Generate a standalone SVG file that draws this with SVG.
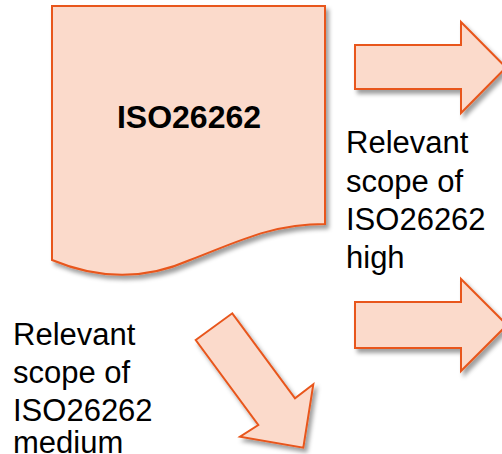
<svg xmlns="http://www.w3.org/2000/svg" width="502" height="454" viewBox="0 0 502 454">
  <defs>
    <filter id="shadow" x="-20%" y="-20%" width="140%" height="140%">
      <feDropShadow dx="3" dy="4" stdDeviation="2" flood-color="#000" flood-opacity="0.38"/>
    </filter>
    <style>
      .shape { fill: #FBDACB; stroke: #E8561C; stroke-width: 2; stroke-linejoin: miter; filter: url(#shadow); }
      .title { font-family: "Liberation Sans", Arial, sans-serif; font-weight: bold; font-size: 32px; fill: #000; text-anchor: middle; }
      .label { font-family: "Liberation Sans", Arial, sans-serif; font-size: 31px; fill: #000; }
    </style>
  </defs>
  <rect width="502" height="454" fill="#fff"/>

  <!-- document shape -->
  <g id="doc">
    <path class="shape" d="M52,6 H325 V224 C270,224 235,243 190,260 C145,280 100,280 52,260 Z"/>
    <text class="title" x="189" y="128">ISO26262</text>
  </g>

  <g id="connectors">
    <!-- upper right arrow -->
    <path class="shape" d="M355,45 H461 V22 L506,67.5 L461,113 V89 H355 Z"/>
    <!-- lower right arrow -->
    <path class="shape" d="M355,302 H461 V279 L507,325 L461,371 V348 H355 Z"/>
    <!-- diagonal arrow -->
    <path class="shape" d="M195.7,340 L232.3,313.3 L295,398.3 L313.3,384.3 L303.3,447.7 L240,436.7 L258.3,425 Z"/>
  </g>

  <g id="label-high">
    <text class="label" x="346" y="153">Relevant</text>
    <text class="label" x="346" y="191.5">scope of</text>
    <text class="label" x="346" y="230">ISO26262</text>
    <text class="label" x="346" y="268">high</text>
  </g>

  <g id="label-medium">
    <text class="label" x="13" y="344.5">Relevant</text>
    <text class="label" x="13" y="383">scope of</text>
    <text class="label" x="13" y="421">ISO26262</text>
    <text class="label" x="13" y="453">medium</text>
  </g>
</svg>
